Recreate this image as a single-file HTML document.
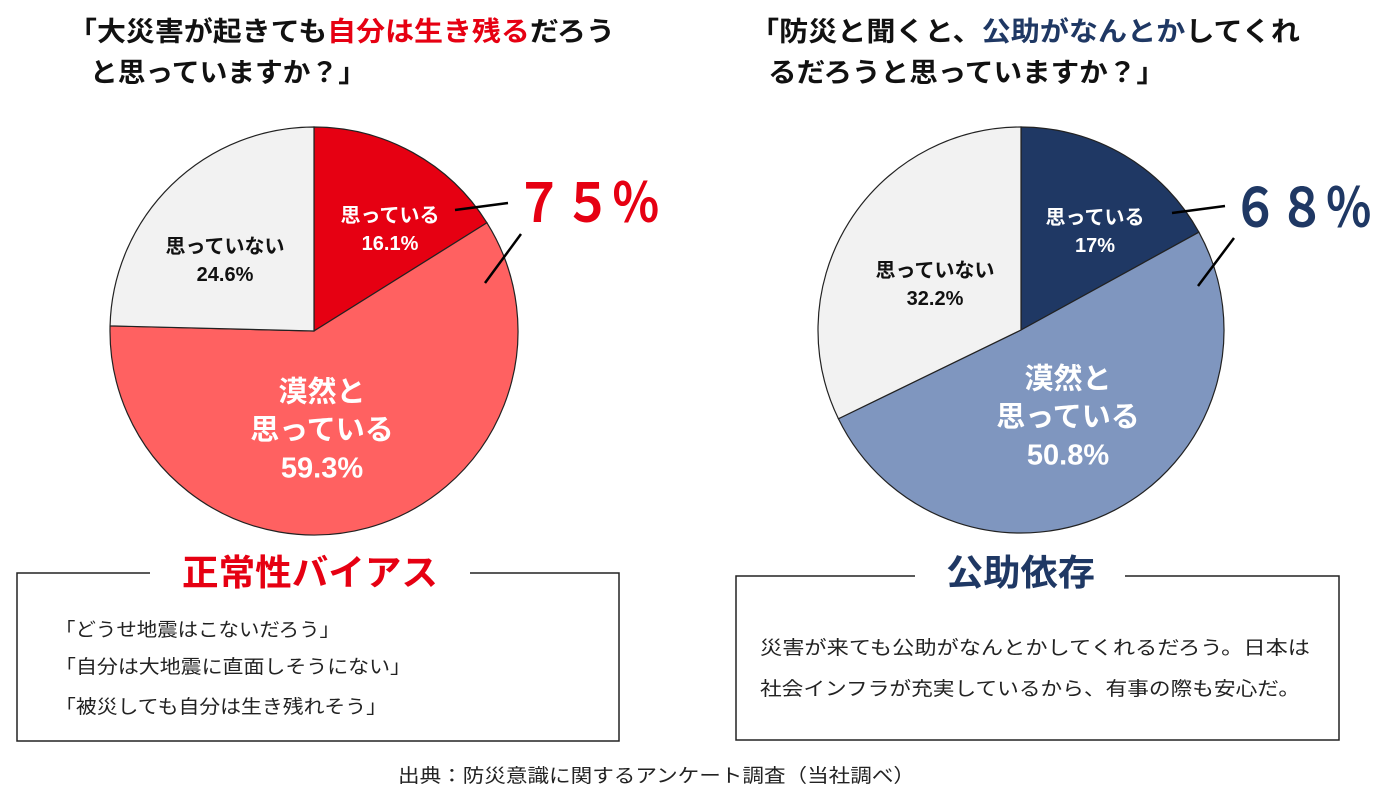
<!DOCTYPE html>
<html lang="ja"><head><meta charset="utf-8">
<style>
html,body{margin:0;padding:0;background:#fff;}
body{width:1390px;height:796px;overflow:hidden;position:relative;font-family:"Liberation Sans","Noto Sans CJK JP",sans-serif;}
svg{position:absolute;left:0;top:0;}
</style></head><body>
<svg id="chart" width="1390" height="796" viewBox="0 0 1390 796" font-family="'Liberation Sans','Noto Sans CJK JP',sans-serif">
<g font-size="27" font-weight="bold" fill="#111">
<text x="68" y="41" textLength="547" lengthAdjust="spacingAndGlyphs">「大災害が起きても<tspan fill="#e60012">自分は生き残る</tspan>だろう</text>
<text x="90" y="82" textLength="276" lengthAdjust="spacingAndGlyphs">と思っていますか？」</text>
</g>
<g font-size="27" font-weight="bold" fill="#111">
<text x="750" y="41" textLength="550" lengthAdjust="spacingAndGlyphs">「防災と聞くと、<tspan fill="#1f3864">公助がなんとか</tspan>してくれ</text>
<text x="768" y="82" textLength="397" lengthAdjust="spacingAndGlyphs">るだろうと思っていますか？」</text>
</g>
<g id="pies"></g>
<g>
<line x1="455" y1="210" x2="508" y2="203" stroke="#000" stroke-width="2.5"/>
<line x1="485" y1="283" x2="521" y2="234" stroke="#000" stroke-width="2.5"/>
<text x="515" y="222" font-size="54" font-weight="bold" fill="#e60012" textLength="145" lengthAdjust="spacingAndGlyphs">７５％</text>
</g>
<g>
<line x1="1172" y1="213" x2="1225" y2="206" stroke="#000" stroke-width="2.5"/>
<line x1="1198" y1="286" x2="1234" y2="238" stroke="#000" stroke-width="2.5"/>
<text x="1232" y="227" font-size="54" font-weight="bold" fill="#1f3864" textLength="140" lengthAdjust="spacingAndGlyphs">６８％</text>
</g>
<g>
<rect x="17" y="573" width="602" height="168" fill="none" stroke="#222" stroke-width="1.5"/>
<rect x="150" y="560" width="320" height="30" fill="#fff"/>
<text x="182" y="585" font-size="36" font-weight="bold" fill="#e60012" textLength="256" lengthAdjust="spacingAndGlyphs">正常性バイアス</text>
<g font-size="19" fill="#222">
<text x="55" y="636" textLength="285" lengthAdjust="spacingAndGlyphs">「どうせ地震はこないだろう」</text>
<text x="55" y="673" textLength="356" lengthAdjust="spacingAndGlyphs">「自分は大地震に直面しそうにない」</text>
<text x="55" y="713" textLength="332" lengthAdjust="spacingAndGlyphs">「被災しても自分は生き残れそう」</text>
</g></g>
<g>
<rect x="736" y="576" width="603" height="164" fill="none" stroke="#222" stroke-width="1.5"/>
<rect x="915" y="560" width="210" height="30" fill="#fff"/>
<text x="946" y="585" font-size="36" font-weight="bold" fill="#1f3864" textLength="149" lengthAdjust="spacingAndGlyphs">公助依存</text>
<g font-size="19" fill="#222">
<text x="760" y="654" textLength="550" lengthAdjust="spacingAndGlyphs">災害が来ても公助がなんとかしてくれるだろう。日本は</text>
<text x="760" y="695" textLength="540" lengthAdjust="spacingAndGlyphs">社会インフラが充実しているから、有事の際も安心だ。</text>
</g></g>
<text x="398" y="782" font-size="19" fill="#222" textLength="517" lengthAdjust="spacingAndGlyphs">出典：防災意識に関するアンケート調査（当社調べ）</text>
</svg>
<script>
const leftCategories = ["思っている","漠然と思っている","思っていない"];
const leftValues = [16.1, 59.3, 24.6];
const rightCategories = ["思っている","漠然と思っている","思っていない"];
const rightValues = [17, 50.8, 32.2];
const leftColors = ["#e60012","#ff6161","#f2f2f2"];
const rightColors = ["#1f3864","#7f96bf","#f2f2f2"];
const leftLabelPos = [[390,229],[322,429],[225,260]];
const rightLabelPos = [[1095,231],[1068,416],[935,284]];
const NS="http://www.w3.org/2000/svg";
const g=document.getElementById('pies');
function mk(t,a){const e=document.createElementNS(NS,t);for(const k in a)e.setAttribute(k,a[k]);return e;}
function pie(cx,cy,r,vals,cols,cats,side,pos){
  const tot=vals.reduce((a,b)=>a+b,0);let a0=-Math.PI/2;
  vals.forEach((v,i)=>{
    const a1=a0+v/tot*2*Math.PI;
    const x0=cx+r*Math.cos(a0),y0=cy+r*Math.sin(a0),x1=cx+r*Math.cos(a1),y1=cy+r*Math.sin(a1);
    const p=mk('path',{d:`M${cx},${cy}L${x0},${y0}A${r},${r} 0 ${a1-a0>Math.PI?1:0} 1 ${x1},${y1}Z`,fill:cols[i],stroke:'#222','stroke-width':1.2});
    
    
    g.appendChild(p);
    const lx=pos[i][0],ly=pos[i][1];
    const lines=i===1?["漠然と","思っている",v+"%"]:[cats[i],v+"%"];
    const fs=i===1?29:20, lh=i===1?38:28;
    const t=mk('text',{'text-anchor':'middle','font-size':fs,'font-weight':'bold',fill:i===2?'#111':'#fff'});
    
    
    lines.forEach((s,j)=>{const ts=mk('tspan',{x:lx,y:ly+(j-(lines.length-1)/2)*lh+fs*0.36});ts.textContent=s;t.appendChild(ts);});
    g.appendChild(t);
    a0=a1;
  });
}
pie(314,331,204,leftValues,leftColors,leftCategories,'left',leftLabelPos);
pie(1021,330,203,rightValues,rightColors,rightCategories,'right',rightLabelPos);
</script>
</body></html>
